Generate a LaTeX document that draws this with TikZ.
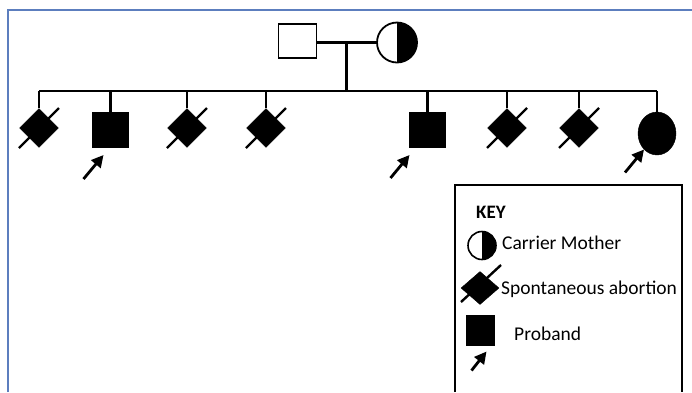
\documentclass[tikz,border=0pt]{standalone}
\usepackage{fontspec}
\setmainfont{Carlito}
\usetikzlibrary{arrows.meta,positioning,calc,shapes.geometric}

\definecolor{framebl}{RGB}{92,126,190}

\begin{document}
\begin{tikzpicture}[
    x=1pt, y=-1pt,
    line/.style={line width=2.6pt},
    sqbox/.style={rectangle, draw=black, line width=1.8pt, minimum width=38pt,
                  minimum height=34pt, inner sep=0pt},
    affsq/.style={sqbox, fill=black, minimum width=35pt},
    carrier/.style={circle, draw=black, line width=1.8pt, minimum size=40pt, inner sep=0pt,
                    path picture={\fill[black] (path picture bounding box.north)
                                  rectangle (path picture bounding box.south east);}},
    affcirc/.style={ellipse, draw=black, fill=black, minimum width=38pt,
                    minimum height=43pt, inner sep=0pt},
    abort/.style={diamond, draw=black, fill=black, minimum width=39pt,
                  minimum height=39pt, inner sep=0pt},
    slash/.style={line width=2.4pt},
    parr/.style={-{Triangle[length=12pt,width=12pt]}, line width=2.8pt},
    keytxt/.style={anchor=west, inner sep=0pt, font=\fontsize{19.5}{22}\selectfont}
]
\useasboundingbox (0,0) rectangle (692,392);
% outer frame
\draw[framebl, line width=2.4pt] (8,392) -- (8,10) -- (692,10);

% parents
\node[sqbox] (f) at (297.5,41) {};
\node[carrier] (m) at (397,42.5) {};
\draw[line] (f.east |- m.west) -- (m.west);
\coordinate (mid) at ($(f.east |- m.west)!.5!(m.west)$);

% sibship
\coordinate (sl) at (39,91);
\coordinate (sr) at (657,91);
\draw[line] (mid) -- (mid |- sl);
\draw[line] (sl) -- (sr);

\node[abort] (c1) at (39,128) {};
\node[affsq] (c2) at (110.5,130) {};
\node[abort] (c3) at (187,128) {};
\node[abort] (c4) at (266,128) {};
\node[affsq] (c5) at (427.5,130) {};
\node[abort] (c6) at (507,128) {};
\node[abort] (c7) at (579,128) {};
\node[affcirc] (c8) at (657,133.5) {};

\foreach \n in {c1,c2,c3,c4,c5,c6,c7,c8}
    \draw[line] (\n.north) -- (\n.north |- sl);
\foreach \n in {c1,c3,c4,c6,c7}
    \draw[slash] ([shift={(-20,20)}]\n.center) -- ([shift={(20,-20)}]\n.center);

% probands
\draw[parr] ([shift={(-27,49)}]c2.center) -- ([shift={(-7,25)}]c2.center);
\draw[parr] ([shift={(-37,48)}]c5.center) -- ([shift={(-18,25)}]c5.center);
\draw[parr] ([shift={(-32,39)}]c8.center) -- ([shift={(-13,16)}]c8.center);

% key
\draw[line width=2.4pt] (455,392) -- (455,185) -- (682,185) -- (682,392);
\node[font=\bfseries\fontsize{19}{21}\selectfont] (key) at (491,212) {KEY};
\node[carrier, minimum size=28pt, line width=1.6pt] (kcar) at (482,245.5) {};
\node[keytxt] (kcart) at (502,243) {Carrier Mother};
\node[abort, minimum width=38pt, minimum height=33pt] (kab) at (480,288) {};
\draw[slash] ([shift={(-19,14)}]kab.center) -- ([shift={(21,-23)}]kab.center);
\node[keytxt] (kabt) at (501,289) {Spontaneous abortion};
\node[affsq, minimum width=27pt, minimum height=29pt] (kpro) at (480.5,330.5) {};
\node[keytxt] (kprot) at (514,334) {Proband};
\draw[parr] ([shift={(-9,40)}]kpro.center) -- ([shift={(6,21)}]kpro.center);
\end{tikzpicture}
\end{document}
